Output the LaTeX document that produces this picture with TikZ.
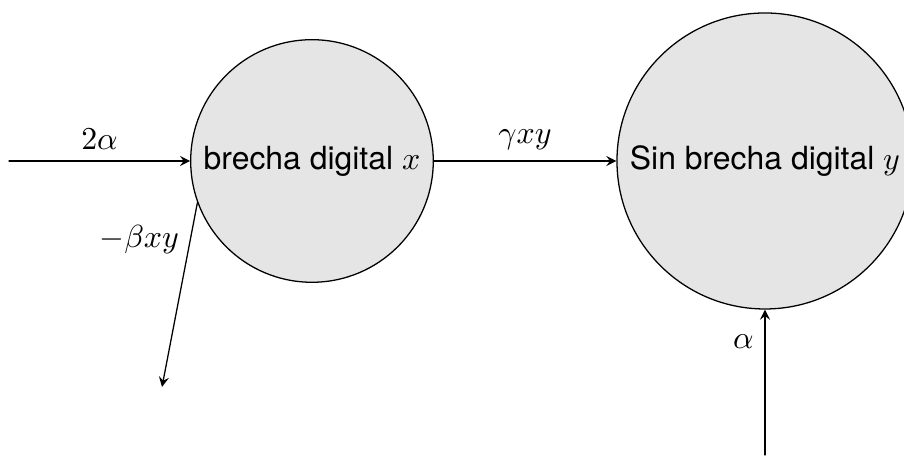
\documentclass[tikz,border=0pt]{standalone}
\usepackage[no-math]{fontspec}
\newfontfamily\helv{TeX Gyre Heros}
\usepackage{tikz}
\usetikzlibrary{arrows,positioning}
\tikzset{>=stealth}
\tikzset{estado/.style={circle,draw,fill=gray!20,font=\helv}}

\begin{document}
\begin{tikzpicture}[line cap=round,line join=round,x=1.0cm,y=1.0cm]
\useasboundingbox (0,0) rectangle (9.956,5.055);
\node[estado] (bx) at (3.436,3.282) {brecha digital $x$};
\node[estado] (sb) at (8.425,3.282) {Sin brecha digital $y$};
\coordinate (entx) at (0.099,3.282);
\coordinate (salx) at (1.784,0.793);
\coordinate (enty) at (8.425,0.044);
\draw [->] (entx) -- (bx) node[midway,above] {$2\alpha$};
\draw [->] (bx) -- (sb) node[midway,above] {$\gamma xy$};
\draw [->] (bx.200.6) -- (salx) node[pos=0.2,left] {$-\beta xy$};
\draw [->] (enty) -- (sb) node[pos=0.78,left] {$\alpha$};
\end{tikzpicture}
\end{document}
